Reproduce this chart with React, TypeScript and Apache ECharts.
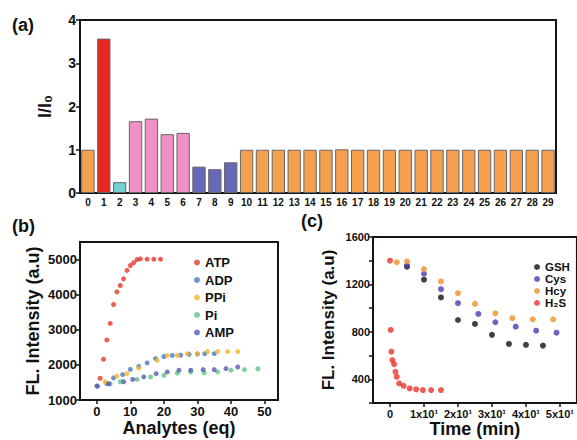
import React, { useEffect, useRef } from 'react';
import * as echarts from 'echarts';

const FONT = 'Arial, Liberation Sans, Helvetica, sans-serif';

// ---- Panel (a) ----
const barCategories = ['0','1','2','3','4','5','6','7','8','9','10','11','12','13','14','15','16','17','18','19','20','21','22','23','24','25','26','27','28','29'];
const barValues = [1.0, 3.57, 0.25, 1.66, 1.72, 1.36, 1.39, 0.61, 0.55, 0.71,
  1.0, 1.0, 1.0, 1.0, 1.0, 1.0, 1.01, 1.0, 1.0, 1.0,
  1.0, 1.0, 1.0, 1.0, 1.0, 1.0, 1.0, 1.0, 1.0, 1.0];
const barGroup = [0, 1, 2, 3, 3, 3, 3, 4, 4, 4,
  0, 0, 0, 0, 0, 0, 0, 0, 0, 0,
  0, 0, 0, 0, 0, 0, 0, 0, 0, 0];
const barPalette = ['#F5A04F', '#E8281E', '#72D0D0', '#EE92C3', '#6868B8'];

// ---- Panel (b) ----
const atpX = [1, 2, 3, 4, 5, 6, 7, 8, 9, 10, 11, 12, 13, 15, 17, 19];
const atpY = [1620, 2160, 2710, 3180, 3720, 4080, 4260, 4450, 4690, 4830, 4910, 5000, 5020, 5010, 5010, 5010];
const adpX = [0, 3, 5, 7.7, 10, 12.5, 15, 17.5, 20, 22.5, 25, 27.5, 30, 32.2, 35];
const adpY = [1400, 1470, 1630, 1725, 1870, 1960, 2055, 2180, 2240, 2270, 2275, 2300, 2310, 2320, 2320];
const ppiX = [2.5, 6, 9, 12.5, 18, 21, 24, 27, 30, 33, 36, 39, 42];
const ppiY = [1520, 1680, 1750, 1910, 2130, 2270, 2270, 2320, 2320, 2380, 2380, 2380, 2380];
const piX = [4, 7, 12, 16, 20, 24, 28, 32, 36, 40, 44, 48];
const piY = [1460, 1520, 1585, 1655, 1705, 1770, 1800, 1775, 1800, 1850, 1865, 1890];
const ampX = [0.2, 3.6, 8, 10.7, 14, 17.7, 21, 24.5, 28, 31.7, 35, 38.5, 42];
const ampY = [1395, 1460, 1520, 1585, 1660, 1750, 1800, 1850, 1850, 1865, 1865, 1895, 1940];
const bXTicks = [0, 10, 20, 30, 40, 50];
const bYTicks = [1000, 2000, 3000, 4000, 5000];

// ---- Panel (c) ----
const gshX = [5, 10, 15, 20, 25, 30, 35, 40, 45];
const gshY = [1350, 1240, 1090, 900, 867, 775, 698, 690, 684];
const cysX = [5, 10, 15, 20, 26, 31, 37, 43, 49];
const cysY = [1358, 1290, 1160, 1042, 951, 881, 844, 810, 793];
const hcyX = [2, 5, 10, 15, 20, 25, 31, 36, 42, 48];
const hcyY = [1387, 1394, 1329, 1225, 1126, 1036, 957, 915, 906, 906];
const h2sX = [0, 0.2, 0.4, 0.7, 1.2, 1.6, 2.0, 2.7, 4, 5.8, 7.7, 9.7, 12.1, 15];
const h2sY = [1400, 816, 633, 562, 528, 463, 421, 365, 345, 323, 315, 309, 309, 309];
const cXTicks = [0, 10, 20, 30, 40, 50];

const zip = (xs: number[], ys: number[]) => xs.map((x, i) => [x, ys[i]]);

const AXIS_COLOR = '#151515';
const bold = { fontWeight: 'bold' as const, color: '#111', fontFamily: FONT };

const GRIDS = [
  { left: 80, top: 20, width: 476, height: 173 },
  { left: 80, top: 242, width: 198, height: 158 },
  { left: 373, top: 237, width: 206, height: 166 },
];

function App() {
  const ref = useRef<HTMLDivElement>(null);
  useEffect(() => {
    if (!ref.current) return;
    const chart = echarts.init(ref.current, null, { renderer: 'svg' });
    const axisLine = { show: true, onZero: false, lineStyle: { color: AXIS_COLOR, width: 2 } };
    const frames = GRIDS.map((g) => ({
      type: 'rect',
      shape: { x: g.left, y: g.top, width: g.width, height: g.height },
      style: { fill: 'none', stroke: AXIS_COLOR, lineWidth: 2 },
    }));
    const option: any = {
      animation: false,
      grid: GRIDS.map((g) => ({ ...g, show: true, borderColor: AXIS_COLOR, borderWidth: 2 })),
      legend: [
        {
          orient: 'vertical', left: 189, top: 250, itemWidth: 6, itemHeight: 6, itemGap: 2.5,
          icon: 'circle',
          data: ['ATP', 'ADP', 'PPi', 'Pi', 'AMP'],
          textStyle: { ...bold, fontSize: 13, lineHeight: 15 },
        },
        {
          orient: 'vertical', left: 529, top: 256, itemWidth: 6, itemHeight: 6, itemGap: 0,
          icon: 'circle',
          data: ['GSH', 'Cys', 'Hcy', 'H₂S'],
          textStyle: { ...bold, fontSize: 11.5, lineHeight: 11 },
        },
      ],
      xAxis: [
        {
          type: 'category', gridIndex: 0, data: barCategories,
          axisLine, axisTick: { alignWithLabel: true, length: 3, lineStyle: { color: AXIS_COLOR, width: 1.5 } },
          axisLabel: { ...bold, fontSize: 10, margin: 4, interval: 0 },
          splitLine: { show: false },
        },
        {
          type: 'value', gridIndex: 1, min: -5, max: 54,
          axisLine, axisTick: { customValues: bXTicks, length: 4, lineStyle: { color: AXIS_COLOR, width: 1.5 } },
          axisLabel: { ...bold, fontSize: 13, margin: 5, customValues: bXTicks, formatter: (v: number) => String(v) },
          splitLine: { show: false },
          name: 'Analytes (eq)', nameLocation: 'middle', nameGap: 13,
          nameTextStyle: { ...bold, fontSize: 18 },
        },
        {
          type: 'value', gridIndex: 2, min: -5, max: 55,
          axisLine, axisTick: { customValues: cXTicks, length: 4, lineStyle: { color: AXIS_COLOR, width: 1.5 } },
          axisLabel: {
            ...bold, fontSize: 11, margin: 5, customValues: cXTicks,
            formatter: (v: number) => (v === 0 ? '0' : `${v / 10}x10¹`),
          },
          splitLine: { show: false },
          name: 'Time (min)', nameLocation: 'middle', nameGap: 14,
          nameTextStyle: { ...bold, fontSize: 18 },
        },
      ],
      yAxis: [
        {
          type: 'value', gridIndex: 0, min: 0, max: 4, interval: 1,
          axisLine, axisTick: { show: true, length: 4, lineStyle: { color: AXIS_COLOR, width: 1.5 } },
          axisLabel: { ...bold, fontSize: 14, margin: 4, formatter: (v: number) => String(v) },
          splitLine: { show: false },
          name: 'I/I₀', nameLocation: 'middle', nameGap: 26, nameRotate: 90,
          nameTextStyle: { ...bold, fontSize: 18 },
        },
        {
          type: 'value', gridIndex: 1, min: 1000, max: 5500,
          axisLine, axisTick: { customValues: bYTicks, length: 4, lineStyle: { color: AXIS_COLOR, width: 1.5 } },
          axisLabel: { ...bold, fontSize: 13, margin: 3, customValues: bYTicks, formatter: (v: number) => String(v) },
          splitLine: { show: false },
          name: 'FL. Intensity (a.u)', nameLocation: 'middle', nameGap: 38, nameRotate: 90,
          nameTextStyle: { ...bold, fontSize: 18 },
        },
        {
          type: 'value', gridIndex: 2, min: 200, max: 1600, interval: 200,
          axisLine, axisTick: { show: true, length: 4, lineStyle: { color: AXIS_COLOR, width: 1.5 } },
          axisLabel: { ...bold, fontSize: 11, margin: 3, formatter: (v: number) => (v % 400 === 0 ? String(v) : '') },
          splitLine: { show: false },
          name: 'FL. Intensity (a.u)', nameLocation: 'middle', nameGap: 36, nameRotate: 90,
          nameTextStyle: { ...bold, fontSize: 17 },
        },
      ],
      series: [
        {
          type: 'bar', xAxisIndex: 0, yAxisIndex: 0, barCategoryGap: '16%',
          data: barValues.map((v, i) => ({
            value: v,
            itemStyle: { color: barPalette[barGroup[i]], borderColor: '#666', borderWidth: 1 },
          })),
        },
        { name: 'ATP', type: 'scatter', xAxisIndex: 1, yAxisIndex: 1, symbolSize: 5, itemStyle: { color: '#E8352A' }, data: zip(atpX, atpY) },
        { name: 'ADP', type: 'scatter', xAxisIndex: 1, yAxisIndex: 1, symbolSize: 5, itemStyle: { color: '#4A78BE' }, data: zip(adpX, adpY) },
        { name: 'PPi', type: 'scatter', xAxisIndex: 1, yAxisIndex: 1, symbolSize: 5, itemStyle: { color: '#F2B526' }, data: zip(ppiX, ppiY) },
        { name: 'Pi', type: 'scatter', xAxisIndex: 1, yAxisIndex: 1, symbolSize: 5, itemStyle: { color: '#5DC383' }, data: zip(piX, piY) },
        { name: 'AMP', type: 'scatter', xAxisIndex: 1, yAxisIndex: 1, symbolSize: 5, itemStyle: { color: '#5A5AB0' }, data: zip(ampX, ampY) },
        { name: 'GSH', type: 'scatter', xAxisIndex: 2, yAxisIndex: 2, symbolSize: 6, itemStyle: { color: '#111111' }, data: zip(gshX, gshY) },
        { name: 'Cys', type: 'scatter', xAxisIndex: 2, yAxisIndex: 2, symbolSize: 6, itemStyle: { color: '#4B3FB0' }, data: zip(cysX, cysY) },
        { name: 'Hcy', type: 'scatter', xAxisIndex: 2, yAxisIndex: 2, symbolSize: 6, itemStyle: { color: '#F0902E' }, data: zip(hcyX, hcyY) },
        { name: 'H₂S', type: 'scatter', xAxisIndex: 2, yAxisIndex: 2, symbolSize: 6, itemStyle: { color: '#E8342A' }, data: zip(h2sX, h2sY) },
      ],
      graphic: [
        ...frames,
        { type: 'text', left: 12, top: 16, style: { text: '(a)', font: `bold 18px ${FONT}`, fill: '#111' } },
        { type: 'text', left: 12, top: 217, style: { text: '(b)', font: `bold 18px ${FONT}`, fill: '#111' } },
        { type: 'text', left: 301, top: 212, style: { text: '(c)', font: `bold 18px ${FONT}`, fill: '#111' } },
      ],
    };
    chart.setOption(option);
    return () => chart.dispose();
  }, []);
  return (
    <div
      ref={ref}
      style={{ position: 'absolute', left: 0, top: 0, width: 577, height: 440 }}
    />
  );
}

export default App;
